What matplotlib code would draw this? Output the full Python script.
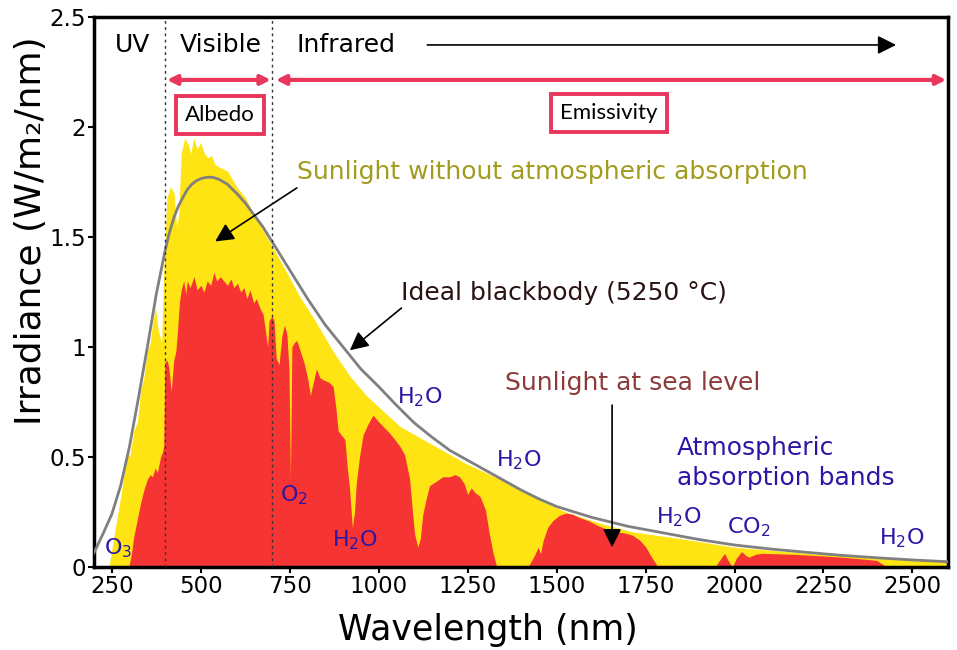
import numpy as np
import matplotlib
matplotlib.use("Agg")
import matplotlib.pyplot as plt

# ideal blackbody curve
bb_nm = [200, 225, 250, 275, 300, 325, 350, 375, 400, 412, 425, 437, 450, 462, 475, 487, 500,
         512, 525, 537, 550, 562, 575, 587, 600, 625, 650, 675, 700, 725, 750, 775, 800, 825,
         850, 875, 900, 925, 950, 975, 1000, 1050, 1100, 1150, 1200, 1250, 1300, 1350, 1400,
         1450, 1500, 1550, 1600, 1700, 1800, 1900, 2000, 2100, 2200, 2300, 2400, 2500, 2600]
bb_val = [0.065, 0.15, 0.24, 0.37, 0.55, 0.77, 1.00, 1.24, 1.44, 1.52, 1.59, 1.64, 1.68, 1.715,
          1.74, 1.755, 1.765, 1.77, 1.772, 1.77, 1.763, 1.752, 1.74, 1.72, 1.70, 1.655, 1.60,
          1.545, 1.48, 1.415, 1.35, 1.285, 1.22, 1.16, 1.10, 1.05, 1.00, 0.95, 0.90, 0.86,
          0.82, 0.735, 0.655, 0.59, 0.53, 0.485, 0.44, 0.395, 0.35, 0.31, 0.275, 0.25, 0.225,
          0.185, 0.155, 0.125, 0.10, 0.082, 0.067, 0.053, 0.042, 0.032, 0.024]

# sunlight without atmospheric absorption (yellow)
toa_nm = [242, 256, 275, 294, 300, 312, 322, 331, 340, 350, 358, 364, 373, 380, 390, 396, 405,
          415, 425, 432, 438, 445, 455, 465, 472, 480, 490, 500, 510, 520, 530, 540, 550, 575,
          600, 625, 650, 675, 700, 731, 778, 825, 872, 918, 965, 1012, 1059, 1152, 1246, 1339,
          1433, 1526, 1620, 1713, 1844, 2000, 2200, 2400, 2600]
toa_val = [0.0, 0.14, 0.32, 0.53, 0.50, 0.62, 0.66, 0.80, 0.86, 0.98, 1.02, 1.10, 1.18, 1.08,
           1.02, 1.35, 1.68, 1.73, 1.70, 1.55, 1.60, 1.88, 1.95, 1.92, 1.88, 1.95, 1.90, 1.93,
           1.88, 1.86, 1.87, 1.83, 1.82, 1.80, 1.73, 1.68, 1.60, 1.53, 1.46, 1.37, 1.23, 1.11,
           0.98, 0.87, 0.78, 0.71, 0.64, 0.555, 0.47, 0.40, 0.32, 0.25, 0.20, 0.16, 0.13, 0.09,
           0.063, 0.04, 0.022]

# sunlight at sea level (red)
sl_nm = [298, 305, 312, 322, 331, 340, 350, 358, 364, 372, 378, 387, 392, 396, 399, 405, 410,
         417, 424, 430, 434, 440, 445, 452, 458, 462, 470, 481, 490, 500, 509, 518, 528, 537,
         545, 555, 565, 575, 585, 593, 603, 612, 621, 630, 638, 649, 656, 668, 675, 683, 688,
         692, 700, 706, 712, 720, 728, 735, 742, 748, 752, 756, 763, 770, 780, 790, 800, 808,
         815, 825, 835, 845, 860, 872, 880, 886, 895, 905, 912, 918, 926, 932, 937, 946, 956,
         970, 984, 1000, 1012, 1030, 1045, 1059, 1073, 1087, 1095, 1101, 1110, 1117, 1124,
         1135, 1143, 1162, 1180, 1199, 1215, 1227, 1240, 1250, 1260, 1270, 1285, 1300, 1311,
         1322, 1332, 1420, 1430, 1440, 1448, 1455, 1462, 1475, 1489, 1508, 1526, 1545, 1564,
         1590, 1620, 1645, 1667, 1690, 1713, 1735, 1751, 1765, 1785, 1945, 1960, 1972, 1982,
         1994, 2005, 2020, 2030, 2040, 2060, 2078, 2120, 2160, 2200, 2250, 2300, 2350, 2400,
         2428]
sl_val = [0.0, 0.06, 0.14, 0.22, 0.29, 0.35, 0.40, 0.42, 0.41, 0.45, 0.43, 0.50, 0.52, 0.55,
          0.93, 0.94, 0.91, 0.80, 0.94, 0.98, 1.06, 1.20, 1.26, 1.30, 1.24, 1.30, 1.27, 1.32,
          1.26, 1.28, 1.25, 1.30, 1.28, 1.34, 1.30, 1.32, 1.30, 1.28, 1.31, 1.27, 1.29, 1.25,
          1.27, 1.22, 1.26, 1.20, 1.22, 1.17, 1.15, 1.06, 1.00, 1.12, 1.14, 1.12, 0.95, 0.92,
          1.05, 1.10, 1.06, 0.90, 0.40, 1.00, 1.02, 1.03, 0.98, 0.93, 0.86, 0.78, 0.83, 0.90,
          0.86, 0.85, 0.84, 0.82, 0.72, 0.62, 0.60, 0.58, 0.45, 0.36, 0.18, 0.25, 0.38, 0.50,
          0.60, 0.65, 0.69, 0.66, 0.64, 0.61, 0.58, 0.55, 0.51, 0.40, 0.25, 0.15, 0.09, 0.13,
          0.24, 0.32, 0.37, 0.39, 0.41, 0.41, 0.42, 0.41, 0.38, 0.33, 0.36, 0.34, 0.32, 0.26,
          0.15, 0.06, 0.0, 0.0, 0.03, 0.06, 0.09, 0.06, 0.12, 0.18, 0.21, 0.235, 0.245, 0.24,
          0.225, 0.21, 0.185, 0.17, 0.16, 0.155, 0.145, 0.12, 0.09, 0.05, 0.0, 0.0, 0.035,
          0.062, 0.03, 0.0, 0.04, 0.07, 0.055, 0.045, 0.058, 0.062, 0.06, 0.058, 0.055, 0.05,
          0.045, 0.038, 0.03, 0.0]

x_ticks = [250, 500, 750, 1000, 1250, 1500, 1750, 2000, 2250, 2500]
y_ticks = [0, 0.5, 1, 1.5, 2, 2.5]
y_ticklabels = ['0', '0.5', '1', '1.5', '2', '2.5']

# molecule labels: text, wavelength, irradiance
mol_labels = ['O$_3$', 'O$_2$', 'H$_2$O', 'H$_2$O', 'H$_2$O', 'H$_2$O', 'CO$_2$', 'H$_2$O']
mol_x = [267, 761, 932, 1115, 1395, 1844, 2041, 2470]
mol_y = [0.086, 0.327, 0.123, 0.773, 0.486, 0.227, 0.182, 0.132]

pink = '#e8365d'
blue = '#2b16a6'

fig = plt.figure(figsize=(9.57, 6.5), dpi=100)
ax = fig.add_axes([94/957, 83/650, 854/957, 550/650])

ax.fill_between(toa_nm, toa_val, 0, color='#ffe414', lw=0, zorder=1)
ax.fill_between(sl_nm, sl_val, 0, color='#f73434', lw=0, zorder=2)
ax.plot(bb_nm, bb_val, color='#808080', lw=2, zorder=3)

for v in [400, 700]:
    ax.axvline(v, color='#333333', ls=(0, (2, 2.5)), lw=1, zorder=4)

ax.set_xlim(200, 2600)
ax.set_ylim(0, 2.5)
ax.set_xticks(x_ticks)
ax.set_yticks(y_ticks)
ax.set_yticklabels(y_ticklabels)
ax.tick_params(direction='out', length=4, width=1.5, labelsize=16.5, pad=2)
for s in ax.spines.values():
    s.set_linewidth(2.5)

ax.set_xlabel('Wavelength (nm)', fontsize=25)
ax.set_ylabel('Irradiance (W/m\u2082/nm)', fontsize=26)
ax.xaxis.set_label_coords(0.461, -0.083)
ax.yaxis.set_label_coords(-0.054, 0.611)

# region labels
ax.text(309, 2.373, 'UV', fontsize=18, ha='center', va='center')
ax.text(556, 2.373, 'Visible', fontsize=18, ha='center', va='center')
ax.text(770, 2.373, 'Infrared', fontsize=18, ha='left', va='center')
ax.annotate('', xy=(2462, 2.373), xytext=(1129, 2.373),
            arrowprops=dict(arrowstyle='-|>', color='k', lw=1.2, mutation_scale=28))

ax.annotate('', xy=(697, 2.214), xytext=(405, 2.214),
            arrowprops=dict(arrowstyle='<|-|>', color=pink, lw=3, mutation_scale=14,
                            shrinkA=0, shrinkB=0))
ax.annotate('', xy=(2595, 2.214), xytext=(711, 2.214), annotation_clip=False,
            arrowprops=dict(arrowstyle='<|-|>', color=pink, lw=3, mutation_scale=14,
                            shrinkA=0, shrinkB=0))

box = dict(boxstyle='square,pad=0.42', fc='white', ec=pink, lw=2.8)
ax.text(554, 2.055, 'Albedo', fontsize=16, family='Lato', ha='center', va='center', bbox=box)
ax.text(1648, 2.064, 'Emissivity', fontsize=16, family='Lato', ha='center', va='center',
        bbox=box)

# curve annotations
ax.text(770, 1.795, 'Sunlight without atmospheric absorption', fontsize=18,
        color='#a39b1c', va='center')
ax.annotate('', xy=(534, 1.473), xytext=(770, 1.723),
            arrowprops=dict(arrowstyle='-|>', color='k', lw=1.2, mutation_scale=28, shrinkA=0))
ax.text(1064, 1.245, 'Ideal blackbody (5250 \u00b0C)', fontsize=18, color='#2a1212',
        va='center')
ax.annotate('', xy=(913, 0.977), xytext=(1064, 1.177),
            arrowprops=dict(arrowstyle='-|>', color='k', lw=1.2, mutation_scale=28, shrinkA=0))
ax.text(1356, 0.836, 'Sunlight at sea level', fontsize=18, color='#8c3a3a', va='center')
ax.annotate('', xy=(1656, 0.077), xytext=(1656, 0.736),
            arrowprops=dict(arrowstyle='-|>', color='k', lw=1.2, mutation_scale=28, shrinkA=0))
ax.text(1839, 0.541, 'Atmospheric', fontsize=18, color=blue, va='center')
ax.text(1839, 0.405, 'absorption bands', fontsize=18, color=blue, va='center')

for t, x, y in zip(mol_labels, mol_x, mol_y):
    ax.text(x, y, t, fontsize=16, color=blue, ha='center', va='center', zorder=5)

fig.savefig('out.png', dpi=100)
